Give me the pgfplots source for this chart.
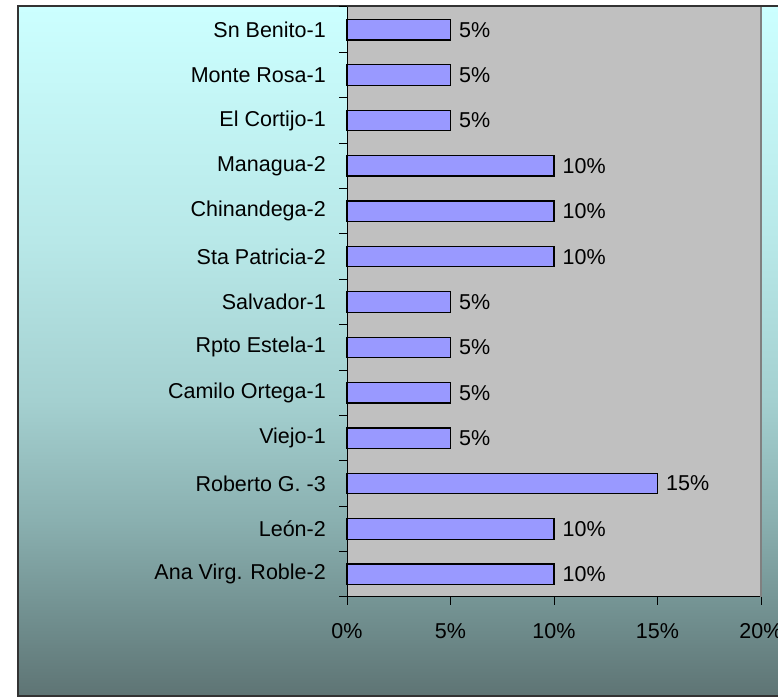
\documentclass[border=0pt]{standalone}
\usepackage{fontspec}
\setmainfont{Liberation Sans}
\usepackage{pgfplots}
\pgfplotsset{compat=1.18}
\definecolor{c1}{RGB}{204,255,255}
\definecolor{c2}{RGB}{184,232,232}
\definecolor{c3}{RGB}{164,208,208}
\definecolor{c4}{RGB}{138,176,176}
\definecolor{c5}{RGB}{112,142,142}
\definecolor{c6}{RGB}{94,116,116}
\definecolor{plotbg}{RGB}{192,192,192}
\definecolor{barfill}{RGB}{153,153,255}
\definecolor{rgray}{RGB}{128,128,128}
\pgfdeclareverticalshading{bgshade}{100bp}{color(0bp)=(c6); color(25bp)=(c6); color(30.5bp)=(c5); color(37.75bp)=(c4); color(46.4bp)=(c3); color(58bp)=(c2); color(75bp)=(c1); color(100bp)=(c1)}
\begin{document}
\begin{tikzpicture}[x=1pt,y=1pt]
\clip (0,0) rectangle (778,698);
\fill[white] (0,0) rectangle (778,698);
\path[shading=bgshade] (18,2) rectangle (800,692);
\draw[line width=1.2pt, black!80] (18,2) rectangle (800,692);
\begin{axis}[
  at={(347pt,101pt)}, anchor=south west,
  scale only axis, width=414pt, height=590pt,
  xbar, bar width=20.5pt,
  xmin=0, xmax=20, ymin=-0.5, ymax=12.5,
  axis background/.style={fill=plotbg},
  axis x line*=bottom, axis y line*=left,
  axis line style={line width=1pt, black},
  xtick={0,5,10,15,20}, xticklabels={0\%,5\%,10\%,15\%,20\%},
  ytick={0,...,12},
  yticklabels={Ana Virg. Roble-2,León-2,Roberto G. -3,Viejo-1,Camilo Ortega-1,Rpto Estela-1,Salvador-1,Sta Patricia-2,Chinandega-2,Managua-2,El Cortijo-1,Monte Rosa-1,Sn Benito-1},
  minor ytick={-0.5,0.5,...,12.5},
  tick align=outside, major tick length=8pt, minor tick length=8pt,
  major y tick style={draw=none},
  minor y tick style={black, line width=1pt},
  major x tick style={black, line width=1pt},
  every tick label/.append style={font=\fontsize{21.5}{24}\selectfont, text=black},
  yticklabel style={inner sep=0pt, xshift=-13pt},
  xticklabel style={inner sep=0pt, yshift=-18pt},
  /pgf/number format/assume math mode=true,
  point meta=x,
  nodes near coords={\pgfmathprintnumber{\pgfplotspointmeta}\%},
  every node near coord/.append style={anchor=west, inner sep=0pt, xshift=8pt, font=\fontsize{21.5}{24}\selectfont, text=black},
  clip=false,
]
\addplot[fill=barfill, draw=black, line width=1.2pt] coordinates {(10,0) (10,1) (15,2) (5,3) (5,4) (5,5) (5,6) (10,7) (10,8) (10,9) (5,10) (5,11) (5,12)};
\draw[rgray, line width=1.5pt] (rel axis cs:1,0) -- (rel axis cs:1,1);
\end{axis}
\end{tikzpicture}
\end{document}
